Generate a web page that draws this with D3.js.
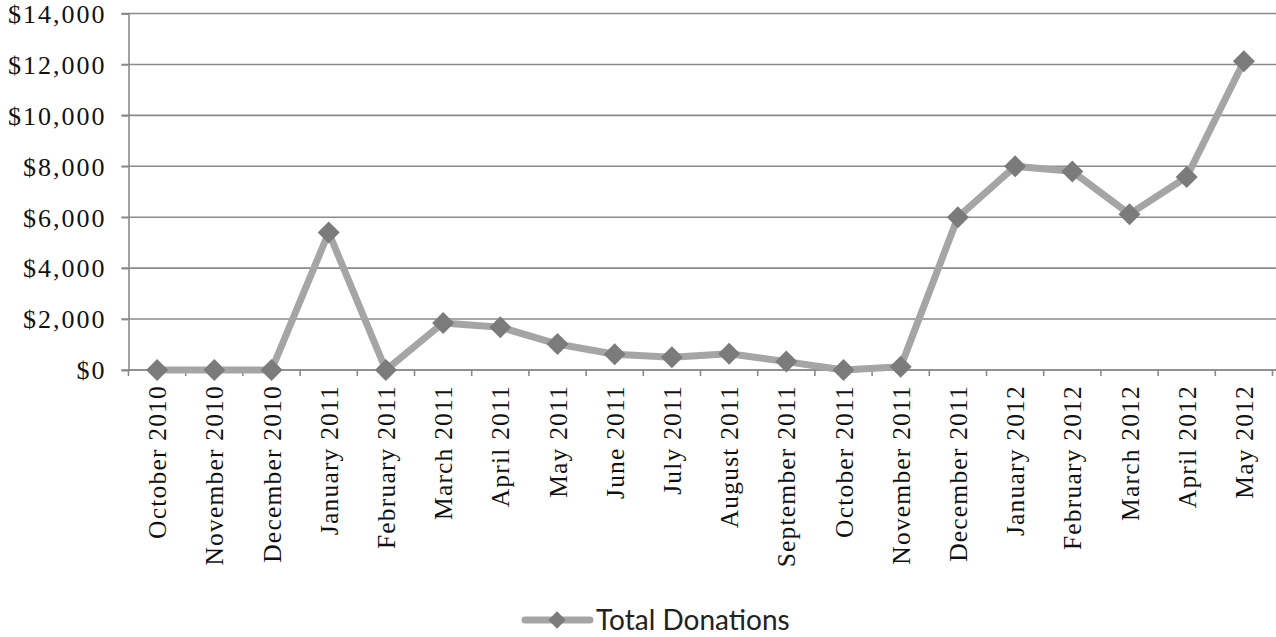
<!DOCTYPE html>
<html>
<head>
<meta charset="utf-8">
<script src="https://cdn.jsdelivr.net/npm/d3@7/dist/d3.min.js"></script>
<style>
  html, body { margin: 0; padding: 0; background: #fff; }
  svg { display: block; }
</style>
</head>
<body>
<svg id="chart" width="1276" height="637"></svg>
<script>
// Monthly donation totals
const months = [
  "October 2010", "November 2010", "December 2010", "January 2011", "February 2011",
  "March 2011", "April 2011", "May 2011", "June 2011", "July 2011", "August 2011",
  "September 2011", "October 2011", "November 2011", "December 2011", "January 2012",
  "February 2012", "March 2012", "April 2012", "May 2012"
];
const donations = [
  0, 0, 0, 5400, 0,
  1850, 1680, 1020, 620, 500, 640,
  330, 0, 130, 6000, 8000,
  7800, 6120, 7580, 12120
];
const yTicks = [0, 2000, 4000, 6000, 8000, 10000, 12000, 14000];
const seriesName = "Total Donations";

const svg = d3.select("#chart");
const margin = { left: 128.5, top: 13.5 };
const W = 1276;
const plotRight = 128.5 + 20 * 57.2;

const x = d3.scaleBand().domain(months).range([margin.left, plotRight]);
const y = d3.scaleLinear().domain([0, 14000]).range([370, margin.top]);

const gridColor = "#8a8a8a";
const serif = "'Liberation Serif', 'Times New Roman', serif";

// Horizontal gridlines
svg.append("g")
  .selectAll("line")
  .data(yTicks)
  .join("line")
  .attr("x1", margin.left - 7)
  .attr("x2", W)
  .attr("y1", d => y(d))
  .attr("y2", d => y(d))
  .attr("stroke", gridColor)
  .attr("stroke-width", 1.6);

// Y axis
const yAxis = svg.append("g")
  .attr("transform", `translate(${margin.left},0)`)
  .call(d3.axisLeft(y).tickValues(yTicks).tickSize(7).tickPadding(15)
    .tickFormat(d => "$" + d3.format(",")(d)));
yAxis.select(".domain").attr("stroke", gridColor).attr("stroke-width", 1.6);
yAxis.selectAll(".tick line").attr("stroke", gridColor).attr("stroke-width", 1.6);
yAxis.selectAll("text")
  .attr("font-family", serif)
  .attr("font-size", 26)
  .attr("letter-spacing", 2)
  .attr("fill", "#111")
  .attr("dy", "0.34em");

// X axis with ticks at category boundaries
const xAxisG = svg.append("g").attr("transform", `translate(0,${y(0)})`);
xAxisG.append("line")
  .attr("x1", margin.left).attr("x2", W)
  .attr("stroke", gridColor).attr("stroke-width", 1.6);
const boundaries = d3.range(months.length + 1).map(i => margin.left + i * x.step());
xAxisG.selectAll("line.tk")
  .data(boundaries)
  .join("line")
  .attr("class", "tk")
  .attr("x1", d => d).attr("x2", d => d)
  .attr("y1", 0).attr("y2", 6)
  .attr("stroke", gridColor).attr("stroke-width", 1.6);

xAxisG.selectAll("text.lbl")
  .data(months)
  .join("text")
  .attr("class", "lbl")
  .attr("transform", d => `translate(${x(d) + x.bandwidth() / 2 + 9},15) rotate(-90)`)
  .attr("text-anchor", "end")
  .attr("font-family", serif)
  .attr("font-size", 25.5)
  .attr("letter-spacing", 1.2)
  .attr("fill", "#111")
  .text(d => d);

// Line series
const cx = d => x(d) + x.bandwidth() / 2;
const line = d3.line()
  .x((d, i) => cx(months[i]))
  .y(d => y(d));

svg.append("path")
  .datum(donations)
  .attr("d", line)
  .attr("fill", "none")
  .attr("stroke", "#a5a5a5")
  .attr("stroke-width", 7)
  .attr("stroke-linejoin", "round");

const diamond = d3.symbol().type(d3.symbolSquare).size(242);
svg.append("g")
  .selectAll("path")
  .data(donations)
  .join("path")
  .attr("transform", (d, i) => `translate(${cx(months[i])},${y(d)}) rotate(45)`)
  .attr("d", diamond)
  .attr("fill", "#7b7b7b");

// Legend
const legend = svg.append("g").attr("transform", "translate(525,620)");
legend.append("line")
  .attr("x1", 0).attr("x2", 65)
  .attr("stroke", "#a5a5a5").attr("stroke-width", 7)
  .attr("stroke-linecap", "round");
legend.append("path")
  .attr("transform", "translate(32,0) rotate(45)")
  .attr("d", d3.symbol().type(d3.symbolSquare).size(150)())
  .attr("fill", "#7b7b7b");
legend.append("text")
  .attr("x", 71)
  .attr("dy", "0.36em")
  .attr("font-family", "Lato, 'Open Sans', sans-serif")
  .attr("font-size", 28)
  .attr("fill", "#222")
  .text(seriesName);
</script>
</body>
</html>
